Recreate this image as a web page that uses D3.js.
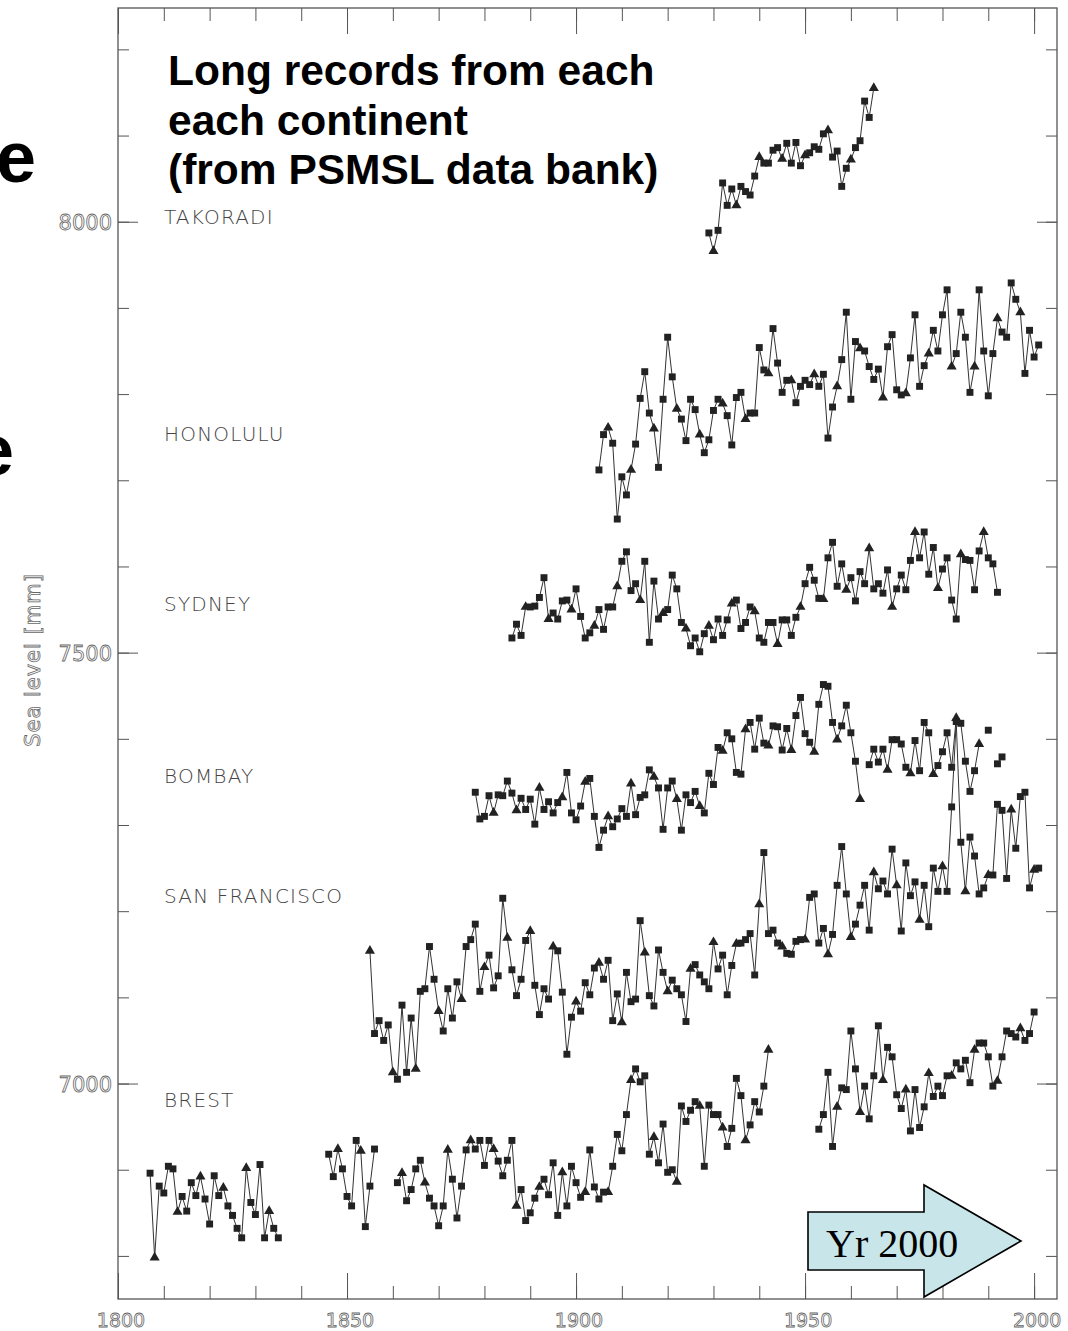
<!DOCTYPE html>
<html>
<head>
<meta charset="utf-8">
<script src="https://cdn.jsdelivr.net/npm/d3@7"></script>
<style>
  html, body { margin: 0; padding: 0; background: #ffffff; }
  svg { display: block; }
</style>
</head>
<body>
<svg id="chart" width="1068" height="1331"></svg>
<script>
// ---------------- DATA (sea level, mm, as plotted) ----------------
const stationNames = ["TAKORADI", "HONOLULU", "SYDNEY", "BOMBAY", "SAN FRANCISCO", "BREST"];
const stationLabelLevel = [7997, 7746, 7548, 7349, 7209, 6973];

const takoradiStart = 1929;
const takoradi = [7987,7966,7990,8045,8019,8038,8019,8041,8035,8031,8053,8075,8068,8068,8083,8086,8073,8091,8068,8092,
  8065,8077,8080,8087,8084,8102,8106,8075,8082,8041,8062,8072,8086,8094,8140,8121,8155];

const honoluluStart = 1905;
const honolulu = [7712,7753,7761,7743,7655,7704,7683,7712,7742,7795,7826,7778,7760,7715,7794,7866,7820,7783,7771,7746,
  7794,7782,7753,7732,7747,7781,7794,7789,7775,7741,7796,7802,7771,7778,7778,7854,7828,7824,7876,7836,
  7802,7816,7816,7790,7809,7816,7811,7823,7809,7823,7749,7785,7809,7840,7895,7794,7861,7853,7850,7832,
  7817,7829,7796,7855,7869,7805,7799,7801,7842,7892,7809,7833,7847,7874,7850,7892,7921,7832,7847,7895,
  7866,7802,7832,7921,7850,7798,7847,7888,7872,7866,7929,7910,7895,7824,7874,7843,7857];

const sydneyStart = 1886;
const sydney = [7517,7533,7520,7553,7553,7554,7564,7587,7539,7546,7539,7560,7561,7550,7574,7542,7517,7523,7531,7550,
  7527,7553,7553,7577,7606,7617,7572,7580,7561,7606,7512,7583,7539,7546,7550,7590,7574,7535,7528,7508,
  7517,7501,7522,7531,7515,7539,7520,7538,7557,7561,7528,7535,7553,7548,7517,7512,7535,7535,7510,7538,
  7538,7520,7541,7553,7580,7599,7584,7563,7562,7610,7628,7577,7603,7573,7587,7560,7594,7580,7621,7574,
  7580,7569,7596,7553,7574,7590,7573,7607,7640,7610,7640,7591,7622,7575,7597,7610,7561,7539,7614,7608,
  7607,7573,7618,7640,7610,7603,7570];

const bombayStart = 1878;
const bombay = [7338,7307,7310,7334,7314,7335,7334,7351,7337,7317,7331,7318,7330,7301,7343,7318,7327,7314,7326,7332,
  7361,7314,7306,7322,7350,7354,7310,7274,7294,7310,7298,7307,7319,7310,7348,7312,7332,7335,7364,7356,
  7343,7295,7343,7351,7330,7294,7335,7326,7339,7322,7314,7360,7347,7390,7386,7407,7400,7361,7359,7411,
  7419,7388,7424,7395,7392,7415,7414,7387,7412,7387,7427,7448,7406,7396,7385,7440,7463,7461,7419,7399,
  7415,7439,7407,7374,7330,
  null,
  7370,7388,7373,7388,7364,7399,7399,7394,7367,7360,7398,7363,7419,7407,7359,7369,7385,7407,7367,7424,
  7418,7374,7339,7363,7394,
  null,
  7410,
  null,
  7371,7379];

const sanFranciscoStart = 1855;
const sanFrancisco = [7154,7058,7073,7050,7068,7013,7005,7091,7013,7076,7017,7107,7110,7159,7121,7084,7061,7110,7076,7118,
  7098,7159,7167,7185,7107,7135,7149,7111,7125,7215,7169,7132,7102,7121,7166,7177,7114,7080,7110,7098,
  7159,7154,7106,7034,7077,7095,7084,7117,7103,7134,7140,7121,7143,7073,7104,7071,7129,7095,7098,7189,
  7152,7102,7090,7155,7129,7107,7120,7110,7103,7072,7133,7138,7126,7118,7110,7164,7133,7149,7103,7137,
  7162,7163,7167,7174,7126,7208,7268,7174,7178,7163,7159,7151,7150,7165,7167,7167,7216,7220,7163,7180,
  7150,7173,7230,7275,7220,7170,7185,7207,7230,7178,7245,7226,7235,7220,7272,7230,7177,7256,7218,7234,
  7190,7230,7182,7250,7223,7252,7223,7321,7420,7280,7223,7286,7264,7220,7227,7242,7242,7324,7317,7238,
  7318,7273,7333,7338,7227,7248,7250];

const brestStart = 1807;
const brest = [6896,6798,6881,6873,6904,6901,6851,6869,6852,6885,6870,6892,6866,6837,6893,6870,6879,6858,6847,6832,
  6821,6902,6862,6848,6906,6821,6852,6832,6821,
  null,null,null,null,null,null,null,null,null,null,
  6918,6892,6924,6901,6869,6858,6934,6922,6834,6881,6924,
  null,null,null,null,
  6885,6896,6864,6877,6901,6911,6885,6867,6858,6835,6858,6923,6889,6844,6881,6923,6934,6924,6934,6905,
  6934,6924,6910,6893,6911,6934,6858,6877,6841,6850,6867,6880,6889,6871,6908,6847,6897,6858,6904,6885,
  6868,6874,6923,6880,6866,6874,6874,6904,6941,6922,6964,7004,7017,7002,7009,6918,6938,6908,6953,6897,
  6900,6886,6974,6956,6969,6979,6974,6904,6975,6964,6964,6949,6927,6948,7006,6986,6934,6952,6979,6967,
  6997,7039,
  null,null,null,null,null,null,null,null,null,null,
  6947,6964,7013,6927,6973,6995,6993,7061,7017,6967,6997,6959,7009,7067,7004,7042,7031,6987,6971,6993,
  6945,6993,6949,6973,7012,6985,6997,6986,7009,7009,7024,7017,7027,7001,7039,7047,7047,7031,6997,7003,
  7031,7061,7058,7054,7064,7050,7058,7083];

const xTickLabels = [1800, 1850, 1900, 1950, 2000];
const yTickLabels = [7000, 7500, 8000];
const titleLines = ["Long records from each", "each continent", "(from PSMSL data bank)"];
const arrowLabel = "Yr 2000";

// ---------------- LAYOUT ----------------
const frame = { left: 118, right: 1057, top: 8, bottom: 1299 };
const svg = d3.select("#chart");
svg.append("rect").attr("width", 1068).attr("height", 1331).attr("fill", "#ffffff");

const x = d3.scaleLinear().domain([1800, 2005]).range([frame.left, frame.right]);
const y = d3.scaleLinear().domain([6750, 8248]).range([frame.bottom, frame.top]);

// partial slide text at far left
svg.append("text").attr("x", -4).attr("y", 182)
  .attr("font-family", "Liberation Sans, Arial, sans-serif").attr("font-weight", "bold")
  .attr("font-size", 72).attr("fill", "#000").text("e");
svg.append("text").attr("x", -26).attr("y", 475)
  .attr("font-family", "Liberation Sans, Arial, sans-serif").attr("font-weight", "bold")
  .attr("font-size", 72).attr("fill", "#000").text("e");

// ---------------- AXES / FRAME ----------------
const minorX = d3.range(1800, 2006, 10);
const majorX = xTickLabels;
const minorY = d3.range(6800, 8248, 100);
const majorY = yTickLabels;
const axisColor = "#555";

function styleAxis(g) {
  g.select(".domain").remove();
  g.selectAll("line").attr("stroke", axisColor).attr("stroke-width", 1);
  g.selectAll("text").remove();
}
svg.append("g").attr("transform", `translate(0,${frame.top})`)
  .call(d3.axisBottom(x).tickValues(minorX).tickSize(13)).call(styleAxis);
svg.append("g").attr("transform", `translate(0,${frame.top})`)
  .call(d3.axisBottom(x).tickValues(majorX).tickSize(26)).call(styleAxis);
svg.append("g").attr("transform", `translate(0,${frame.bottom})`)
  .call(d3.axisTop(x).tickValues(minorX).tickSize(13)).call(styleAxis);
svg.append("g").attr("transform", `translate(0,${frame.bottom})`)
  .call(d3.axisTop(x).tickValues(majorX).tickSize(26)).call(styleAxis);
svg.append("g").attr("transform", `translate(${frame.left},0)`)
  .call(d3.axisRight(y).tickValues(minorY).tickSize(11)).call(styleAxis);
svg.append("g").attr("transform", `translate(${frame.left},0)`)
  .call(d3.axisRight(y).tickValues(majorY).tickSize(20)).call(styleAxis);
svg.append("g").attr("transform", `translate(${frame.right},0)`)
  .call(d3.axisLeft(y).tickValues(minorY).tickSize(11)).call(styleAxis);
svg.append("g").attr("transform", `translate(${frame.right},0)`)
  .call(d3.axisLeft(y).tickValues(majorY).tickSize(20)).call(styleAxis);

svg.append("rect")
  .attr("x", frame.left).attr("y", frame.top)
  .attr("width", frame.right - frame.left).attr("height", frame.bottom - frame.top)
  .attr("fill", "none").attr("stroke", axisColor).attr("stroke-width", 1.3);

// tick labels (hollow, plotter-like)
const labelFont = "DejaVu Sans, Verdana, sans-serif";
svg.append("g").selectAll("text").data(xTickLabels).join("text")
  .attr("x", d => x(d) + 3).attr("y", 1327)
  .attr("text-anchor", "middle")
  .attr("font-family", labelFont).attr("font-size", 19)
  .attr("fill", "none").attr("stroke", "#666").attr("stroke-width", 0.8)
  .text(d => d);
svg.append("g").selectAll("text").data(yTickLabels).join("text")
  .attr("x", 112).attr("y", d => y(d) + 8)
  .attr("text-anchor", "end")
  .attr("font-family", labelFont).attr("font-size", 21)
  .attr("fill", "none").attr("stroke", "#666").attr("stroke-width", 0.8)
  .text(d => d);

svg.append("text")
  .attr("transform", "translate(40,660) rotate(-90)")
  .attr("text-anchor", "middle")
  .attr("font-family", labelFont).attr("font-size", 21)
  .attr("letter-spacing", 1)
  .attr("fill", "none").attr("stroke", "#666").attr("stroke-width", 0.8)
  .text("Sea level [mm]");

// ---------------- SERIES ----------------
const seriesList = [
  { name: stationNames[0], start: takoradiStart, values: takoradi },
  { name: stationNames[1], start: honoluluStart, values: honolulu },
  { name: stationNames[2], start: sydneyStart, values: sydney },
  { name: stationNames[3], start: bombayStart, values: bombay },
  { name: stationNames[4], start: sanFranciscoStart, values: sanFrancisco },
  { name: stationNames[5], start: brestStart, values: brest }
];

const line = d3.line()
  .defined(d => d.v != null)
  .x(d => x(d.year)).y(d => y(d.v));

seriesList.forEach((s, si) => {
  const pts = s.values.map((v, i) => ({ year: s.start + i, v }));
  const g = svg.append("g");
  g.append("path").datum(pts)
    .attr("d", line)
    .attr("fill", "none").attr("stroke", "#333").attr("stroke-width", 1);
  g.selectAll("path.m").data(pts.filter(d => d.v != null)).join("path")
    .attr("class", "m")
    .attr("transform", d => `translate(${x(d.year)},${y(d.v)})`)
    .attr("d", (d, i) => {
      const k = (i * 7 + si * 3) % 5;
      const t = k === 2 ? d3.symbolTriangle : d3.symbolSquare;
      return d3.symbol().type(t).size(k === 2 ? 44 : 48)();
    })
    .attr("fill", "#222");
});

// station labels
svg.append("g").selectAll("text").data(stationNames).join("text")
  .attr("x", 164)
  .attr("y", (d, i) => y(stationLabelLevel[i]))
  .attr("font-family", "DejaVu Sans ExtraLight, DejaVu Sans, sans-serif")
  .attr("font-weight", 200)
  .attr("font-size", 20)
  .attr("letter-spacing", 1.2)
  .attr("fill", "#444")
  .text(d => d);

// ---------------- TITLE ----------------
svg.append("g").selectAll("text").data(titleLines).join("text")
  .attr("x", 168).attr("y", (d, i) => 85 + i * 49.5)
  .attr("font-family", "Liberation Sans, Arial, sans-serif")
  .attr("font-weight", "bold").attr("font-size", 42.5)
  .attr("fill", "#000")
  .text(d => d);

// ---------------- ARROW ----------------
const arrowPts = [[808,1212],[924,1212],[924,1185],[1021,1241],[924,1297],[924,1270],[808,1270]];
svg.append("polygon")
  .attr("points", arrowPts.map(p => p.join(",")).join(" "))
  .attr("fill", "#c8e6ea").attr("stroke", "#000").attr("stroke-width", 1.6)
  .attr("stroke-linejoin", "miter");
svg.append("text").attr("x", 826).attr("y", 1257)
  .attr("font-family", "Liberation Serif, Times New Roman, serif")
  .attr("font-size", 40).attr("fill", "#000")
  .text(arrowLabel);
</script>
</body>
</html>
